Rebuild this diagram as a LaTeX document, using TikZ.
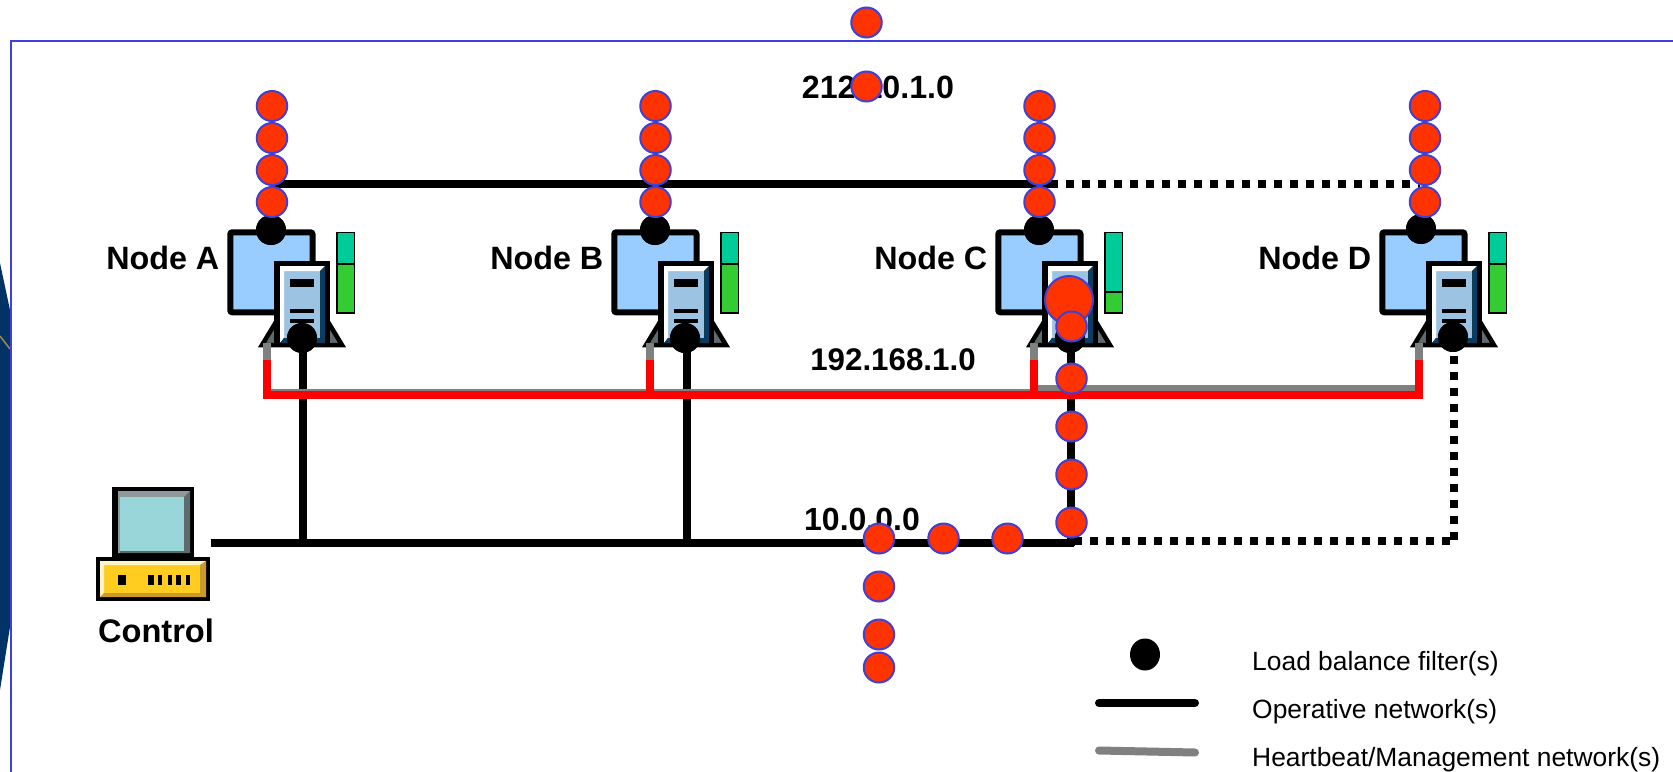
\documentclass[tikz,border=0pt]{standalone}
\usepackage{fontspec}
\setmainfont{Liberation Sans}
\usetikzlibrary{shapes.geometric}
\definecolor{framecol}{HTML}{4040D8}
\definecolor{imgblue}{HTML}{023366}
\definecolor{imggold}{HTML}{9A8A50}
\definecolor{pktred}{HTML}{FF3300}
\definecolor{sqblue}{HTML}{99CCFF}
\definecolor{towerface}{HTML}{9DC3E3}
\definecolor{towerdark}{HTML}{0B3C60}
\definecolor{slategr}{HTML}{5F6A6D}
\definecolor{barteal}{HTML}{00CC99}
\definecolor{bargreen}{HTML}{33CC33}
\definecolor{bezel}{HTML}{8F999C}
\definecolor{screencol}{HTML}{99D6D9}
\definecolor{baseyel}{HTML}{FFCC1F}
\definecolor{baselt}{HTML}{FFF4C9}
\definecolor{basedk}{HTML}{C99A2E}
\tikzset{
  x=1pt,y=-1pt,
  packet/.style={ellipse,draw=framecol,fill=pktred,line width=2pt,inner sep=0pt,minimum width=30.5pt,minimum height=30pt},
  bigpacket/.style={packet,minimum width=48pt,minimum height=48pt},
  filterdot/.style={circle,fill=black,inner sep=0pt,minimum size=30pt},
  oper/.style={draw=black,line width=8pt},
  operdot/.style={oper,dash pattern=on 8pt off 8pt},
  heart/.style={draw=gray,line width=8pt},
  ringnet/.style={draw=red,line width=8pt},
  biglabel/.style={font=\fontsize{32.3}{36}\selectfont\bfseries,inner sep=0pt},
  leglabel/.style={font=\fontsize{26.4}{30}\selectfont,inner sep=0pt,anchor=west},
}
\begin{document}
\begin{tikzpicture}
\path[use as bounding box] (0,0) rectangle (1673,771);
\clip (0,0) rectangle (1673,771);
% background image fragment
\fill[imgblue] (0,263) -- (10,310) -- (10,627) -- (0,690) -- cycle;
\draw[imggold,line width=1.5pt] (0,336) -- (10,349);
\draw[framecol,line width=2pt] (10.7,790) -- (10.7,40.5) -- (1690,40.5);
% servers
\foreach \nm/\dx/\split in {A/0/264,B/384/264,C/768/292,D/1152/264}{
\begin{scope}[xshift=\dx pt]
  \draw[black,fill=sqblue,line width=6pt,rounded corners=2pt] (230.3,232.3) rectangle (312.5,312.3);
  \draw[black,fill=slategr,line width=4.5pt,line join=miter] (262,345) -- (302,279) -- (342,345) -- cycle;
  \fill[black] (274,261) rectangle (330,347);
  \fill[towerface] (284,271) rectangle (320,338);
  \fill[white] (280,266) -- (325,266) -- (320,271) -- (284,271) -- (284,338) -- (280,343) -- cycle;
  \fill[towerdark] (325,266) -- (325,343) -- (280,343) -- (284,338) -- (320,338) -- (320,271) -- cycle;
  \fill[black] (290,279) rectangle (314,287);
  \fill[black] (290,309) rectangle (314,313);
  \fill[black] (290,319) rectangle (314,323);
  \draw[black,fill=barteal,line width=1.5pt] (337,232.5) rectangle (354.5,\split);
  \draw[black,fill=bargreen,line width=1.5pt] (337,\split) rectangle (354.5,313);
\end{scope}
}
% control computer
\fill[black] (112,487) rectangle (194,557);
\fill[bezel] (118,491) rectangle (190,497);
\fill[slategr] (190,491) -- (190,553) -- (118,553) -- (120,551) -- (184,551) -- (184,497) -- cycle;
\fill[bezel] (118,491) rectangle (120,553);
\fill[screencol] (120,497) rectangle (184,551);
\fill[black] (96,557) rectangle (210,601);
\fill[baseyel] (100,561) rectangle (206,597);
\fill[baselt] (100,561) -- (206,561) -- (200,565) -- (104,565) -- (104,593) -- (100,597) -- cycle;
\fill[basedk] (206,561) -- (206,597) -- (100,597) -- (104,593) -- (200,593) -- (200,565) -- cycle;
\fill[black] (118,575) rectangle (126,585);
\foreach \a/\b in {148/154,158/162,168/172,176/181,186/190}{\fill[black] (\a,575) rectangle (\b,585);}
% anchors for the networks
\node[filterdot] (tA) at (271,230) {};
\node[filterdot] (tB) at (655,230) {};
\node[filterdot] (tC) at (1039,230) {};
\node[filterdot] (tD) at (1421,229) {};
\node[filterdot] (fA) at (302,338) {};
\node[filterdot] (fB) at (685,338) {};
\node[filterdot] (fC) at (1070,338) {};
\node[filterdot] (fD) at (1453,337) {};
\coordinate (upA) at (271,184);
\coordinate (upC) at (1050,184);
\coordinate (upD) at (1420,184);
\coordinate (ctl) at (211,542.5);
\coordinate (dropA) at (302.5,338);
\coordinate (dropB) at (686.5,338);
\coordinate (dropC) at (1071,338);
\coordinate (loA) at (302.5,542.5);
\coordinate (loB) at (686.5,542.5);
\coordinate (loC) at (1071,546);
\coordinate (loE) at (1074,542.5);
\coordinate (dotC) at (1074,540.5);
\coordinate (dotD) at (1453.5,540.5);
\coordinate (dropD) at (1453.5,340);
\coordinate (busW) at (263,394.5);
\coordinate (busE) at (1422.5,394.5);
\coordinate (grW) at (270,390);
\coordinate (grC) at (1034,390);
\coordinate (grCb) at (1034,388);
\coordinate (grE) at (1418,388);
% black networks
\draw[oper] (upA) -- (upC);
\draw[operdot] (upC) -- (upD);
\draw[oper] (ctl) -- (loE);
\draw[operdot] (dotC) -- (dotD);
\draw[oper] (dropA) -- (loA);
\draw[oper] (dropB) -- (loB);
\draw[oper] (dropC) -- (loC);
\draw[operdot] (dropD) -- (dotD);
% heartbeat and its drops
\draw[heart,line width=3pt] (grW) -- (grC);
\draw[heart,line width=6pt] (grCb) -- (grE);
\foreach \x in {266.5,650,1034,1418.5}{
  \draw[heart] (\x,343) -- (\x,361);
  \draw[ringnet] (\x,360) -- (\x,398);
}
\draw[ringnet] (busW) -- (busE);
% filter dots on top
\node[filterdot] at (tA) {};
\node[filterdot] at (tB) {};
\node[filterdot] at (tC) {};
\node[filterdot] at (tD) {};
\node[filterdot] at (fA) {};
\node[filterdot] at (fB) {};
\node[filterdot] at (fC) {};
\node[filterdot] at (fD) {};
% labels
\node[biglabel,anchor=east] (lA) at (219.5,258) {Node A};
\node[biglabel,anchor=east] (lB) at (603.5,258) {Node B};
\node[biglabel,anchor=east] (lC) at (987.5,258) {Node C};
\node[biglabel,anchor=east] (lD) at (1371.5,258) {Node D};
\node[biglabel,font=\fontsize{32.6}{36}\selectfont\bfseries] (lCtl) at (156,631) {Control};
\node[biglabel,font=\fontsize{32.2}{36}\selectfont\bfseries] (n1) at (878,87) {212.10.1.0};
\node[biglabel,font=\fontsize{31.3}{36}\selectfont\bfseries] (n2) at (893,359.5) {192.168.1.0};
\node[biglabel,font=\fontsize{32}{36}\selectfont\bfseries] (n3) at (862,519) {10.0.0.0};
% packets
\foreach \x/\y [count=\i] in {866.5/22.5,866.5/86.5,
  272/106,272/138,272/170,272/202,
  655.5/106,655.5/138,655.5/170,655.5/202,
  1039.5/106,1039.5/138,1039.5/170,1039.5/202,
  1425/106,1425/138,1425/170,1425/202,
  1071.5/326.5,1071.5/378.5,1071.5/426.5,1071.5/474.5,1071.5/522.5,
  1007.5/538.5,943.5/538.5,879/538.5,879/586.5,879/634.5,879/667.5}{
  \ifnum\i=19 \node[bigpacket] (pbig) at (1069,300) {}; \fi
  \node[packet] (p\i) at (\x,\y) {};
}
% legend
\node[filterdot,ellipse,minimum width=30pt,minimum height=32pt] (lgdot) at (1145,654.5) {};
\coordinate (lg1a) at (1099,703);
\coordinate (lg1b) at (1195,703);
\coordinate (lg2a) at (1099,750.5);
\coordinate (lg2b) at (1195,752.5);
\draw[black,line width=8pt,line cap=round] (lg1a) -- (lg1b);
\draw[gray,line width=8pt,line cap=round] (lg2a) -- (lg2b);
\node[leglabel] (t1) at (1252,664) {Load balance filter(s)};
\node[leglabel] (t2) at (1252,712) {Operative network(s)};
\node[leglabel] (t3) at (1252,760) {Heartbeat/Management network(s)};
\end{tikzpicture}
\end{document}
